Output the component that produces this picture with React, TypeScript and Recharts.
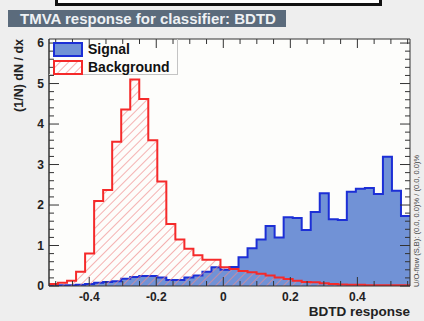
import { ComposedChart, Area, XAxis, YAxis, CartesianGrid } from 'recharts';

// BDTD classifier output, 40 equal bins over [X_MIN, X_MAX], normalised to unit area
const X_MIN = -0.52;
const X_MAX = 0.557;
const Y_MAX = 6.1;

const signal = [
  0.01, 0.02, 0.02, 0.03, 0.05, 0.08, 0.1, 0.12, 0.18, 0.22,
  0.25, 0.25, 0.21, 0.15, 0.15, 0.21, 0.26, 0.35, 0.46, 0.4,
  0.47, 0.71, 0.93, 1.15, 1.48, 1.2, 1.7, 1.68, 1.38, 1.83,
  2.29, 1.65, 1.63, 2.33, 2.4, 2.42, 2.27, 3.19, 2.35, 1.73,
];

const background = [
  0.05, 0.08, 0.13, 0.35, 0.8, 2.1, 2.37, 3.56, 4.36, 5.1,
  4.62, 3.6, 2.58, 1.53, 1.15, 0.92, 0.76, 0.65, 0.65, 0.46,
  0.42, 0.37, 0.34, 0.3, 0.26, 0.21, 0.17, 0.13, 0.1, 0.09,
  0.07, 0.05, 0.04, 0.03, 0.03, 0.02, 0.02, 0.02, 0.02, 0.02,
];

const xTicks = [
  -0.5, -0.45, -0.4, -0.35, -0.3, -0.25, -0.2, -0.15, -0.1, -0.05, 0,
  0.05, 0.1, 0.15, 0.2, 0.25, 0.3, 0.35, 0.4, 0.45, 0.5, 0.55,
];
const xLabels = [-0.4, -0.2, 0, 0.2, 0.4];

const yTicks = [
  0, 0.2, 0.4, 0.6, 0.8, 1, 1.2, 1.4, 1.6, 1.8, 2, 2.2, 2.4, 2.6, 2.8, 3,
  3.2, 3.4, 3.6, 3.8, 4, 4.2, 4.4, 4.6, 4.8, 5, 5.2, 5.4, 5.6, 5.8, 6,
];
const yLabels = [0, 1, 2, 3, 4, 5, 6];

// one row per bin edge; stepAfter holds each bin value until the next edge
const binWidth = (X_MAX - X_MIN) / signal.length;
const rows = Array.from({ length: signal.length + 1 }, (_, i) => {
  const k = Math.min(i, signal.length - 1);
  return { x: X_MIN + i * binWidth, signal: signal[k], background: background[k] };
});

const FONT = '"Liberation Sans", Arial, Helvetica, sans-serif';
const INK = '#333';
const SIG_LINE = '#1c2fd6';
const SIG_FILL = '#7192d6';
const BKG_LINE = '#f52a2a';
const HATCH = '#f08a8a';

const tickText = { fontFamily: FONT, fontWeight: 700, fontSize: 12, fill: '#222' };

const fmtX = (v: number) => (v === 0 ? '0' : v.toFixed(1));

// ROOT-style frame: every tick points into the plot, labels only on majors
function BottomTick({ x, y, payload }: any) {
  const major = xLabels.includes(payload.value);
  return (
    <g>
      <line x1={x} x2={x} y1={y} y2={y - (major ? 9 : 5)} stroke={INK} />
      {major && (
        <text x={x} y={y + 15} textAnchor="middle" style={tickText}>
          {fmtX(payload.value)}
        </text>
      )}
    </g>
  );
}

function TopTick({ x, y, payload }: any) {
  const major = xLabels.includes(payload.value);
  return <line x1={x} x2={x} y1={y} y2={y + (major ? 9 : 5)} stroke={INK} />;
}

function LeftTick({ x, y, payload }: any) {
  const major = yLabels.includes(payload.value);
  return (
    <g>
      <line x1={x} x2={x + (major ? 10 : 5)} y1={y} y2={y} stroke={INK} />
      {major && (
        <text x={x - 5} y={y} dy="0.35em" textAnchor="end" style={tickText}>
          {payload.value}
        </text>
      )}
    </g>
  );
}

function RightTick({ x, y, payload }: any) {
  const major = yLabels.includes(payload.value);
  return <line x1={x} x2={x - (major ? 10 : 5)} y1={y} y2={y} stroke={INK} />;
}

function HatchDef({ id }: { id: string }) {
  return (
    <pattern id={id} patternUnits="userSpaceOnUse" width={6} height={6} patternTransform="rotate(45)">
      <line x1={0} y1={0} x2={0} y2={6} stroke={HATCH} strokeWidth={1.3} />
    </pattern>
  );
}

function LegendBox() {
  const item = { display: 'flex', alignItems: 'center', height: 18 } as const;
  const label = { marginLeft: 5, fontFamily: FONT, fontWeight: 700, fontSize: 14, color: '#111' };
  return (
    <div
      style={{
        position: 'absolute', left: 49, top: 39, width: 129, height: 36,
        border: '1px solid #c4c4c4', borderLeft: 'none', borderTop: 'none', boxSizing: 'border-box',
        padding: '1px 0 0 4px',
      }}
    >
      <div style={item}>
        <svg width={30} height={15}>
          <rect x={1} y={1} width={28} height={13} fill={SIG_FILL} stroke={SIG_LINE} strokeWidth={2} />
        </svg>
        <span style={label}>Signal</span>
      </div>
      <div style={item}>
        <svg width={30} height={15}>
          <defs><HatchDef id="hatch-swatch" /></defs>
          <rect x={1} y={1} width={28} height={13} fill="#fff" />
          <rect x={1} y={1} width={28} height={13} fill="url(#hatch-swatch)" stroke={BKG_LINE} strokeWidth={2} />
        </svg>
        <span style={label}>Background</span>
      </div>
    </div>
  );
}

export default function App() {
  return (
    <div style={{ position: 'fixed', left: 0, top: 0, width: 424, height: 321, background: '#eeeeee', overflow: 'hidden' }}>
      <div
        style={{
          position: 'absolute', left: 55, top: -20, width: 327, height: 26,
          border: '3px solid #111', background: '#fff', boxSizing: 'border-box',
        }}
      />
      <div
        style={{
          position: 'absolute', left: 8, top: 10, width: 278, height: 17, background: '#5b6b7c',
          color: '#eef1f4', fontFamily: FONT, fontWeight: 700, fontSize: 15, lineHeight: '17px',
          paddingLeft: 12, boxSizing: 'border-box', whiteSpace: 'nowrap',
        }}
      >
        TMVA response for classifier: BDTD
      </div>

      <ComposedChart
        width={424}
        height={321}
        data={rows}
        margin={{ top: 38, right: 13, bottom: 34, left: 48 }}
        style={{ position: 'absolute', left: 0, top: 0 }}
      >
        <defs>
          <HatchDef id="hatch" />
        </defs>
        <CartesianGrid xAxisId="b" yAxisId="l" fill="#fdfdfb" horizontal={false} vertical={false} />
        <Area
          xAxisId="b" yAxisId="l" type="stepAfter" dataKey="signal" name="Signal"
          stroke={SIG_LINE} strokeWidth={2} fill={SIG_FILL} fillOpacity={1}
          dot={false} activeDot={false} isAnimationActive={false}
        />
        <Area
          xAxisId="b" yAxisId="l" type="stepAfter" dataKey="background" name="Background"
          stroke={BKG_LINE} strokeWidth={2} fill="url(#hatch)" fillOpacity={1}
          dot={false} activeDot={false} isAnimationActive={false}
        />
        <XAxis
          xAxisId="b" type="number" dataKey="x" domain={[X_MIN, X_MAX]} ticks={xTicks} interval={0}
          height={1} tickSize={0} tickMargin={0} tickLine={false} tick={BottomTick}
          axisLine={{ stroke: INK }} allowDataOverflow
        />
        <XAxis
          xAxisId="t" orientation="top" type="number" dataKey="x" domain={[X_MIN, X_MAX]} ticks={xTicks}
          interval={0} height={1} tickSize={0} tickMargin={0} tickLine={false} tick={TopTick}
          axisLine={{ stroke: INK }} allowDataOverflow
        />
        <YAxis
          yAxisId="l" type="number" domain={[0, Y_MAX]} ticks={yTicks} interval={0} width={1}
          tickSize={0} tickMargin={0} tickLine={false} tick={LeftTick} axisLine={{ stroke: INK, strokeWidth: 1.5 }} allowDataOverflow
        />
        <YAxis
          yAxisId="r" orientation="right" type="number" domain={[0, Y_MAX]} ticks={yTicks} interval={0} width={1}
          tickSize={0} tickMargin={0} tickLine={false} tick={RightTick} axisLine={{ stroke: INK }} allowDataOverflow
        />
      </ComposedChart>

      <LegendBox />

      <div
        style={{
          position: 'absolute', left: 12, top: 39, fontFamily: FONT, fontWeight: 700, fontSize: 12.5,
          color: '#222', whiteSpace: 'nowrap', transform: 'rotate(-90deg) translateX(-100%)',
          transformOrigin: '0 0',
        }}
      >
        (1/N) dN / dx
      </div>
      <div
        style={{
          position: 'absolute', right: 14, top: 304, fontFamily: FONT, fontWeight: 700, fontSize: 13.5,
          color: '#222', whiteSpace: 'nowrap',
        }}
      >
        BDTD response
      </div>
      <div
        style={{
          position: 'absolute', left: 413, top: 287, fontFamily: FONT, fontSize: 7.5, color: '#444',
          whiteSpace: 'nowrap', transform: 'rotate(-90deg)', transformOrigin: '0 0', lineHeight: '8px',
        }}
      >
        U/O-flow (S,B): (0.0, 0.0)% / (0.0, 0.0)%
      </div>
    </div>
  );
}
